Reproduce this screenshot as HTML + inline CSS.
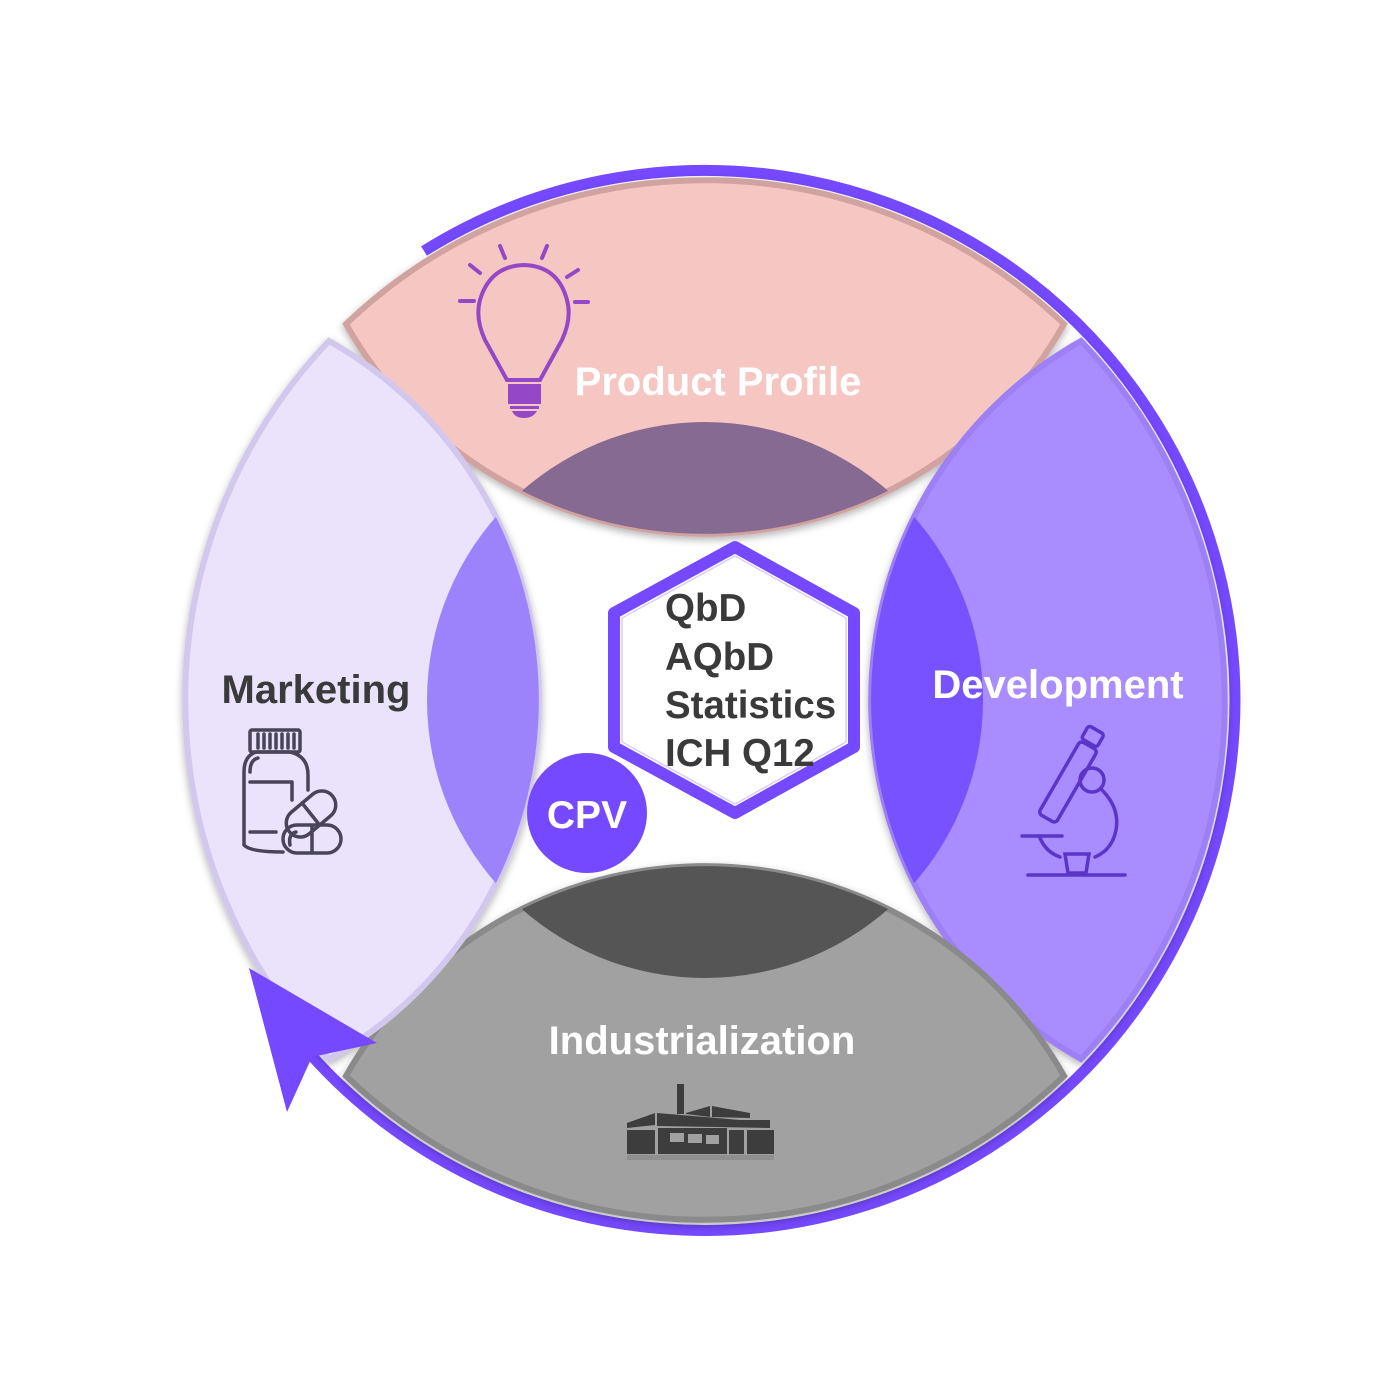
<!DOCTYPE html>
<html><head><meta charset="utf-8"><style>
html,body{margin:0;padding:0;background:#fff;}
svg{display:block;}
text{font-family:"Liberation Sans",sans-serif;font-weight:bold;}
</style></head><body>
<svg width="1400" height="1400" viewBox="0 0 1400 1400">
<defs>
<path id="seg" d="M346 324 A520 520 0 0 1 1064 324 A412 412 0 0 1 346 324 Z"/>
<clipPath id="ct"><use href="#seg"/></clipPath>
<clipPath id="cr"><use href="#seg" transform="rotate(90 705 700)"/></clipPath>
<clipPath id="cb"><use href="#seg" transform="rotate(180 705 700)"/></clipPath>
<clipPath id="cl"><use href="#seg" transform="rotate(-90 705 700)"/></clipPath>
<filter id="sh" x="-10%" y="-10%" width="120%" height="120%"><feDropShadow dx="0" dy="3" stdDeviation="4" flood-color="#000" flood-opacity="0.3"/></filter>
</defs>
<path d="M424 251 A530 530 0 1 1 311 1055" fill="none" stroke="#7549ff" stroke-width="11"/>
<g filter="url(#sh)">
<use href="#seg" fill="#f6c6c3" stroke="#d0a3a0" stroke-width="6"/>
<use href="#seg" transform="rotate(90 705 700)" fill="#a98cfe" stroke="#9d80f6" stroke-width="6"/>
<use href="#seg" transform="rotate(180 705 700)" fill="#a1a1a1" stroke="#8a8a8a" stroke-width="6"/>
<use href="#seg" transform="rotate(-90 705 700)" fill="#ebe3fc" stroke="#d2c7ec" stroke-width="6"/>
</g>
<circle cx="705" cy="700" r="278" fill="#876a92" clip-path="url(#ct)"/>
<circle cx="705" cy="700" r="278" fill="#7752ff" clip-path="url(#cr)"/>
<circle cx="705" cy="700" r="278" fill="#555555" clip-path="url(#cb)"/>
<circle cx="705" cy="700" r="278" fill="#9d83fb" clip-path="url(#cl)"/>
<polygon points="249,968 377,1043 312,1057 287,1112" fill="#7549ff"/>
<text x="718" y="395" font-size="40" fill="#fff" text-anchor="middle">Product Profile</text>
<text x="1058" y="698" font-size="40" fill="#fff" text-anchor="middle">Development</text>
<text x="702" y="1054" font-size="40" fill="#fff" text-anchor="middle">Industrialization</text>
<text x="316" y="703" font-size="40" fill="#3a3a3a" text-anchor="middle">Marketing</text>
<polygon points="735,547 854,613 854,747 735,813 614,747 614,613" fill="#fff" stroke="#7549ff" stroke-width="12" stroke-linejoin="round"/>
<polygon points="735,556 846,618 846,742 735,804 622,742 622,618" fill="none" stroke="#d9ccff" stroke-width="1.5" stroke-linejoin="round"/>
<g font-size="38.5" fill="#3a3a3a">
<text x="665" y="621">QbD</text>
<text x="665" y="670">AQbD</text>
<text x="665" y="718">Statistics</text>
<text x="665" y="766">ICH Q12</text>
</g>
<circle cx="587" cy="813" r="60" fill="#7549ff"/>
<text x="587" y="828" font-size="39" fill="#fff" text-anchor="middle">CPV</text>
<g stroke="#9448c8" stroke-width="4" fill="none" stroke-linecap="round">
<path d="M507 380 L485 340 Q475 318 480 300 Q490 266 524 265 Q558 266 567 300 Q572 318 562 340 L540 380 Z"/>
<line x1="460" y1="301" x2="474" y2="301"/><line x1="575" y1="302" x2="588" y2="302"/>
<line x1="470" y1="265" x2="480" y2="273"/><line x1="567" y1="277" x2="578" y2="270"/>
<line x1="500" y1="246" x2="505" y2="258"/><line x1="547" y1="246" x2="542" y2="258"/>
</g>
<rect x="508" y="384" width="33" height="20" fill="#9448c8"/>
<rect x="510" y="406" width="29" height="3" fill="#9448c8"/>
<path d="M512 411 H537 Q533 418 524 418 Q515 418 512 411 Z" fill="#9448c8"/>
<g stroke="#5b35c7" stroke-width="3.5" fill="none" stroke-linecap="round">
<rect x="1058" y="740" width="20" height="84" rx="4" transform="rotate(30 1068 782)"/>
<rect x="1084" y="729" width="18" height="15" rx="3" transform="rotate(30 1093 736)"/>
<circle cx="1092" cy="780" r="12"/>
<path d="M1102 790 Q1120 808 1116 830 Q1112 850 1095 857"/>
<line x1="1022" y1="836" x2="1062" y2="836"/>
<path d="M1040 838 Q1046 852 1060 857"/>
<path d="M1065 854 H1089 L1086 873 H1068 Z"/>
<line x1="1028" y1="875" x2="1125" y2="875"/>
</g>
<g stroke="#4a4458" stroke-width="3.5" fill="none" stroke-linecap="round" stroke-linejoin="round">
<rect x="250" y="730" width="50" height="22" rx="2"/>
<path d="M258 734 V748 M264 734 V748 M270 734 V748 M276 734 V748 M282 734 V748 M288 734 V748 M294 734 V748"/>
<path d="M290 752 Q308 756 308 775 V790 M290 752 H256 Q244 756 244 772 V845 Q250 852 283 852"/>
<path d="M250 772 Q250 760 258 758"/>
<path d="M250 782 H292 V800"/>
<path d="M250 832 H276"/>
<rect x="283" y="800" width="56" height="28" rx="14" transform="rotate(-40 311 814)"/>
<line x1="302" y1="803" x2="318" y2="823"/>
<rect x="283" y="825" width="58" height="28" rx="14"/>
<line x1="312" y1="826" x2="312" y2="852"/>
<path d="M290 845 Q288 834 296 832"/>
</g>
<g fill="#3d3d3d">
<rect x="677" y="1084" width="7" height="30"/>
<polygon points="627,1123 655,1113 655,1125 627,1128"/>
<polygon points="657,1113 740,1120 770,1120 770,1128 657,1126"/>
<polygon points="686,1113 710,1106 710,1117 686,1114"/>
<polygon points="712,1106 750,1113 750,1118 712,1117"/>
<rect x="627" y="1130" width="28" height="24"/>
<rect x="658" y="1128" width="69" height="26"/>
<rect x="729" y="1130" width="15" height="24"/>
<rect x="747" y="1130" width="27" height="24"/>
<rect x="627" y="1155" width="147" height="5" fill="#8f8f8f"/>
</g>
<g fill="#a1a1a1"><rect x="670" y="1133" width="14" height="9"/><rect x="688" y="1134" width="14" height="9"/><rect x="706" y="1135" width="13" height="9"/></g>
</svg>
</body></html>
